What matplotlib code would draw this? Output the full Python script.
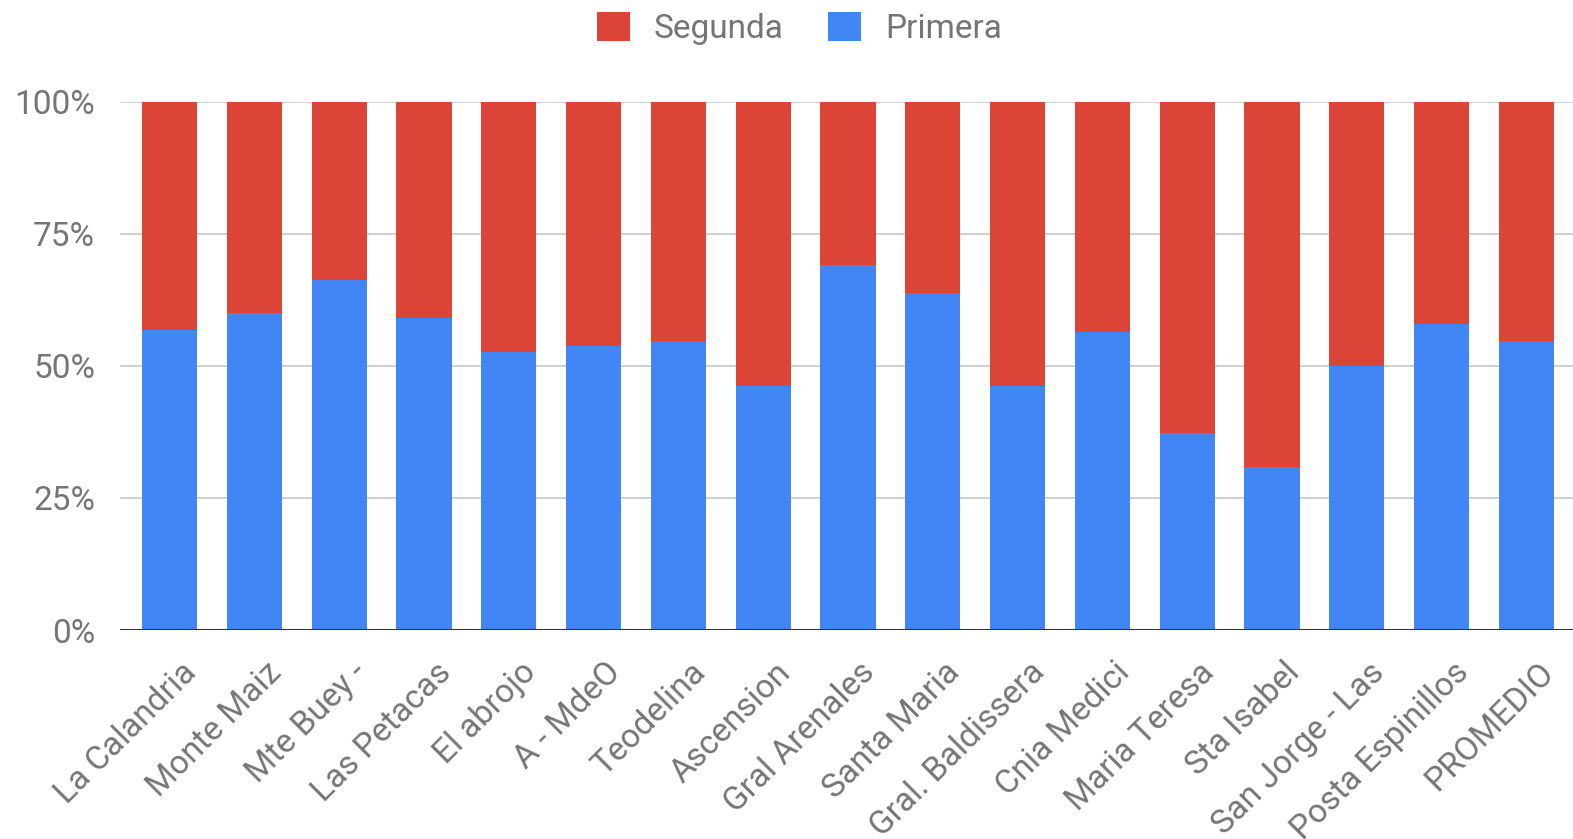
import numpy as np
import matplotlib
matplotlib.use('Agg')
import matplotlib.pyplot as plt
import matplotlib.transforms as mtransforms
from matplotlib.patches import Patch

# Datos (porcentaje de Primera; Segunda = resto)
localidades = ['La Calandria', 'Monte Maiz', 'Mte Buey -', 'Las Petacas', 'El abrojo',
               'A - MdeO', 'Teodelina', 'Ascension', 'Gral Arenales', 'Santa Maria',
               'Gral. Baldissera', 'Cnia Medici', 'Maria Teresa', 'Sta Isabel',
               'San Jorge - Las', 'Posta Espinillos', 'PROMEDIO']
primera = [56.8, 60.0, 66.3, 59.0, 52.6, 53.7, 54.7, 46.2, 69.0, 63.7,
           46.2, 56.4, 37.2, 30.8, 49.9, 57.9, 54.7]
segunda = [100 - p for p in primera]
y_ticks = [0, 25, 50, 75, 100]

ROJO = '#db4437'
AZUL = '#4285f4'
GRIS = '#757575'

plt.rcParams['font.family'] = ['Roboto', 'DejaVu Sans']

fig = plt.figure(figsize=(15.73, 8.39), dpi=100)
ax = fig.add_axes([0.0763, 0.249, 0.9237, 0.630])

x = np.arange(len(localidades))
ax.bar(x, primera, width=0.65, color=AZUL, zorder=2)
ax.bar(x, segunda, width=0.65, bottom=primera, color=ROJO, zorder=2)

ax.set_xlim(-0.585, 16.55)
ax.set_ylim(0, 100)
ax.set_yticks(y_ticks)
ax.set_yticklabels([f'{v}%' for v in y_ticks])
ax.yaxis.grid(True, color='#cccccc', linewidth=1.3, zorder=0)
ax.axhline(0, color='#333333', linewidth=2.2, zorder=3)

for s in ax.spines.values():
    s.set_visible(False)

ax.tick_params(axis='y', length=0, pad=18, labelsize=24, labelcolor=GRIS)
ax.tick_params(axis='x', length=0, pad=8, labelsize=24, labelcolor=GRIS)
ax.set_xticks(x)
ax.set_xticklabels(localidades, rotation=45, ha='right', rotation_mode='anchor')

# desplaza las etiquetas rotadas un poco a la derecha y hacia abajo
offset = mtransforms.ScaledTranslation(0.11, -0.15, fig.dpi_scale_trans)
for lbl in ax.get_xticklabels():
    lbl.set_transform(lbl.get_transform() + offset)

handles = [Patch(facecolor=ROJO, label='Segunda'),
           Patch(facecolor=AZUL, label='Primera')]
fig.legend(handles=handles, loc='upper center', bbox_to_anchor=(0.508, 1.022),
           ncol=2, frameon=False, fontsize=24, labelcolor=GRIS,
           handlelength=1.0, handleheight=1.0, handletextpad=0.7,
           columnspacing=1.35)

fig.savefig('out.png', dpi=100)
